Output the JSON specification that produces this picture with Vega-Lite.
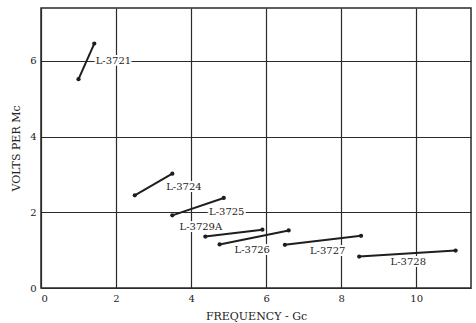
{
  "$schema": "https://vega.github.io/schema/vega-lite/v6.json",
  "width": 430,
  "height": 280,
  "autosize": "none",
  "padding": {"left": 41, "top": 8, "right": 5, "bottom": 35},
  "background": "white",
  "config": {
    "view": {"stroke": "#2a2a2a", "strokeWidth": 1.5},
    "font": "DejaVu Serif"
  },
  "datasets": {
    "segments": [
      {"id": "L-3721", "x": 1.0, "y": 5.52},
      {"id": "L-3721", "x": 1.42, "y": 6.46},
      {"id": "L-3724", "x": 2.5, "y": 2.45},
      {"id": "L-3724", "x": 3.5, "y": 3.02},
      {"id": "L-3725", "x": 3.5, "y": 1.92},
      {"id": "L-3725", "x": 4.87, "y": 2.38},
      {"id": "L-3729A", "x": 4.38, "y": 1.36},
      {"id": "L-3729A", "x": 5.9, "y": 1.54},
      {"id": "L-3726", "x": 4.76, "y": 1.15},
      {"id": "L-3726", "x": 6.6, "y": 1.52},
      {"id": "L-3727", "x": 6.5, "y": 1.14},
      {"id": "L-3727", "x": 8.53, "y": 1.38},
      {"id": "L-3728", "x": 8.48, "y": 0.83},
      {"id": "L-3728", "x": 11.05, "y": 0.99}
    ],
    "labels": [
      {"label": "L-3721", "x": 1.93, "y": 6.0},
      {"label": "L-3724", "x": 3.81, "y": 2.67},
      {"label": "L-3725", "x": 4.95, "y": 2.0},
      {"label": "L-3729A", "x": 4.26, "y": 1.6},
      {"label": "L-3726", "x": 5.63, "y": 1.01},
      {"label": "L-3727", "x": 7.64, "y": 0.99},
      {"label": "L-3728", "x": 9.79, "y": 0.69}
    ]
  },
  "layer": [
    {
      "data": {"name": "segments"},
      "mark": {"type": "line", "color": "#1e1e1e", "strokeWidth": 2},
      "encoding": {
        "x": {
          "field": "x", "type": "quantitative",
          "scale": {"domain": [0, 11.46], "nice": false, "zero": false},
          "axis": {
            "values": [0, 2, 4, 6, 8, 10],
            "title": "FREQUENCY - Gc",
            "titleFont": "DejaVu Serif", "titleFontSize": 11, "titleFontWeight": "normal",
            "titleColor": "#222", "titlePadding": 7,
            "labelFont": "DejaVu Serif", "labelFontSize": 10, "labelColor": "#222",
            "labelPadding": 5,
            "ticks": false, "domain": false,
            "grid": true, "gridColor": "#2a2a2a", "gridWidth": 1.2, "gridOpacity": 1
          }
        },
        "y": {
          "field": "y", "type": "quantitative",
          "scale": {"domain": [0, 7.4], "nice": false, "zero": false},
          "axis": {
            "values": [0, 2, 4, 6],
            "title": "VOLTS PER Mc",
            "titleFont": "DejaVu Serif", "titleFontSize": 11, "titleFontWeight": "normal",
            "titleColor": "#222", "titlePadding": 8,
            "labelFont": "DejaVu Serif", "labelFontSize": 10, "labelColor": "#222",
            "labelPadding": 5,
            "ticks": false, "domain": false,
            "grid": true, "gridColor": "#2a2a2a", "gridWidth": 1.2, "gridOpacity": 1
          }
        },
        "detail": {"field": "id"}
      }
    },
    {
      "data": {"name": "segments"},
      "mark": {"type": "circle", "color": "#1e1e1e", "size": 18, "opacity": 1},
      "encoding": {
        "x": {"field": "x", "type": "quantitative"},
        "y": {"field": "y", "type": "quantitative"}
      }
    },
    {
      "data": {"name": "labels"},
      "mark": {"type": "text", "font": "DejaVu Serif", "fontSize": 10, "color": "white", "stroke": "white", "strokeWidth": 4, "align": "center", "baseline": "middle"},
      "encoding": {
        "x": {"field": "x", "type": "quantitative"},
        "y": {"field": "y", "type": "quantitative"},
        "text": {"field": "label"}
      }
    },
    {
      "data": {"name": "labels"},
      "mark": {"type": "text", "font": "DejaVu Serif", "fontSize": 10, "color": "#222", "align": "center", "baseline": "middle"},
      "encoding": {
        "x": {"field": "x", "type": "quantitative"},
        "y": {"field": "y", "type": "quantitative"},
        "text": {"field": "label"}
      }
    }
  ]
}
